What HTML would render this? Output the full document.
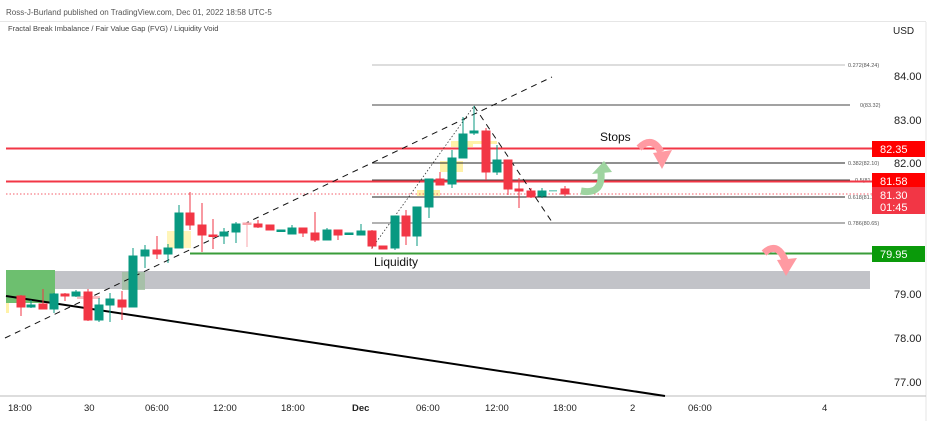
<!DOCTYPE html>
<html><head><meta charset="utf-8"><style>
body{margin:0;background:#fff;}
svg{display:block;font-family:"Liberation Sans",sans-serif;}
</style></head><body>
<svg width="938" height="421" viewBox="0 0 938 421" xmlns="http://www.w3.org/2000/svg">
<rect width="938" height="421" fill="#fff"/>
<text x="6" y="15" font-size="8" fill="#555">Ross-J-Burland published on TradingView.com, Dec 01, 2022 18:58 UTC-5</text>
<rect x="0" y="21" width="926" height="1" fill="#e6e6e6"/>
<text x="8" y="31" font-size="7.5" fill="#444">Fractal Break Imbalance / Fair Value Gap (FVG) / Liquidity Void</text>
<text x="893" y="34" font-size="10" fill="#222">USD</text>
<line x1="926" y1="22" x2="926" y2="421" stroke="#e6e6e6"/>
<line x1="0" y1="396" x2="926" y2="396" stroke="#bbb"/>
<rect x="55" y="271" width="815" height="18" fill="#c2c3c8"/>
<rect x="6" y="270" width="49" height="33" fill="#6dbf6f"/>
<rect x="122" y="272" width="23" height="18" fill="#9fbfa0" opacity="0.8"/>
<rect x="6" y="303" width="3" height="10" fill="#fff2a8"/>
<rect x="167" y="231" width="24" height="17" fill="#fff2a8" opacity="0.8"/>
<rect x="417" y="190" width="23" height="6" fill="#fff2a8"/>
<rect x="440" y="161" width="23" height="11" fill="#fff2a8"/>
<rect x="451" y="141" width="22" height="6" fill="#fff2a8"/>
<rect x="467" y="141" width="30" height="3" fill="#fff2a8"/>
<rect x="77" y="296" width="23" height="3" fill="#f8c0c4"/>
<g stroke-width="1">
<line x1="372" y1="65" x2="845" y2="65" stroke="#bbb"/>
<line x1="372" y1="105" x2="850" y2="105" stroke="#444"/>
<line x1="372" y1="163" x2="845" y2="163" stroke="#222"/>
<line x1="372" y1="180" x2="850" y2="180" stroke="#444"/>
<line x1="372" y1="197" x2="845" y2="197" stroke="#222"/>
<line x1="372" y1="223" x2="845" y2="223" stroke="#666"/>
</g>
<g font-size="5.5" fill="#555">
<text x="848" y="67">0.272(84.24)</text>
<text x="860" y="107">0(83.32)</text>
<text x="848" y="165">0.382(82.10)</text>
<text x="855" y="182">0.5(81.62)</text>
<text x="848" y="199">0.618(81.22)</text>
<text x="848" y="225">0.786(80.65)</text>
</g>
<line x1="6" y1="148.5" x2="872" y2="148.5" stroke="#f23645" stroke-width="2"/>
<line x1="6" y1="181.5" x2="872" y2="181.5" stroke="#f23645" stroke-width="2"/>
<line x1="6" y1="194" x2="872" y2="194" stroke="#f23645" stroke-dasharray="1.5 2" opacity="0.8"/>
<line x1="190" y1="253.5" x2="872" y2="253.5" stroke="#3a9c3a" stroke-width="2"/>
<line x1="5" y1="338" x2="552" y2="77" stroke="#111" stroke-dasharray="6 5" stroke-width="1"/>
<line x1="372" y1="248" x2="474" y2="106" stroke="#333" stroke-dasharray="1.5 2" stroke-width="0.8"/>
<line x1="474" y1="106" x2="552" y2="222" stroke="#111" stroke-dasharray="6 5" stroke-width="1"/>
<line x1="6" y1="296" x2="665" y2="396" stroke="#000" stroke-width="2"/>
<!-- red candles -->
<g stroke="#f23645" fill="#f23645">
<line x1="21" x2="21" y1="295" y2="316"/><rect x="17" y="296" width="8" height="11"/>
<line x1="43" x2="43" y1="289" y2="309"/><rect x="39" y="304" width="8" height="5"/>
<line x1="65" x2="65" y1="293" y2="301"/><rect x="61" y="294" width="8" height="2"/>
<line x1="88" x2="88" y1="289" y2="321"/><rect x="84" y="292" width="8" height="28"/>
<line x1="122" x2="122" y1="291" y2="320"/><rect x="118" y="300" width="8" height="7"/>
<line x1="157" x2="157" y1="236" y2="259"/><rect x="153" y="250" width="8" height="4"/>
<line x1="190" x2="190" y1="192" y2="230"/><rect x="186" y="213" width="8" height="12"/>
<line x1="202" x2="202" y1="203" y2="252"/><rect x="198" y="225" width="8" height="10"/>
<line x1="213" x2="213" y1="219" y2="249"/><rect x="209" y="235" width="8" height="1.5"/>
<line x1="258" x2="258" y1="220" y2="228"/><rect x="254" y="224" width="8" height="3"/>
<rect x="266" y="225" width="8" height="5"/>
<line x1="303" x2="303" y1="228" y2="237"/><rect x="299" y="228" width="8" height="5"/>
<line x1="315" x2="315" y1="212" y2="242"/><rect x="311" y="233" width="8" height="7"/>
<line x1="338" x2="338" y1="230" y2="240"/><rect x="334" y="230" width="8" height="5"/>
<line x1="372" x2="372" y1="230" y2="249"/><rect x="368" y="231" width="8" height="15"/>
<rect x="379" y="246" width="8" height="3"/>
<line x1="406" x2="406" y1="210" y2="245"/><rect x="402" y="216" width="8" height="20"/>
<line x1="440" x2="440" y1="172" y2="185"/><rect x="436" y="179" width="8" height="6"/>
<line x1="486" x2="486" y1="128" y2="180"/><rect x="482" y="131" width="8" height="41"/>
<line x1="508" x2="508" y1="160" y2="195"/><rect x="504" y="160" width="8" height="29"/>
<line x1="519" x2="519" y1="178" y2="208"/><rect x="515" y="189" width="8" height="2"/>
<line x1="531" x2="531" y1="188" y2="198"/><rect x="527" y="191" width="8" height="6"/>
<line x1="565" x2="565" y1="186" y2="196"/><rect x="561" y="189" width="8" height="5"/>
</g>
<g stroke="#f8a5ab" fill="#f8a5ab">
<line x1="247" x2="247" y1="222" y2="247"/><rect x="243" y="223" width="8" height="1.5"/>
</g>
<!-- green candles -->
<g stroke="#089981" fill="#089981">
<line x1="31" x2="31" y1="300" y2="308"/><rect x="27" y="305" width="8" height="2"/>
<line x1="54" x2="54" y1="293" y2="313"/><rect x="50" y="294" width="8" height="15"/>
<line x1="76" x2="76" y1="290" y2="297"/><rect x="72" y="292" width="8" height="4"/>
<line x1="99" x2="99" y1="298" y2="322"/><rect x="95" y="305" width="8" height="15"/>
<line x1="110" x2="110" y1="293" y2="322"/><rect x="106" y="299" width="8" height="6"/>
<line x1="133" x2="133" y1="248" y2="307"/><rect x="129" y="256" width="8" height="51"/>
<line x1="145" x2="145" y1="245" y2="268"/><rect x="141" y="250" width="8" height="6"/>
<line x1="168" x2="168" y1="244" y2="263"/><rect x="164" y="248" width="8" height="6"/>
<line x1="179" x2="179" y1="205" y2="248"/><rect x="175" y="213" width="8" height="35"/>
<line x1="224" x2="224" y1="228" y2="244"/><rect x="220" y="232" width="8" height="4"/>
<line x1="236" x2="236" y1="222" y2="243"/><rect x="232" y="224" width="8" height="8"/>
<rect x="277" y="230" width="8" height="1.5"/>
<line x1="292" x2="292" y1="225" y2="234"/><rect x="288" y="228" width="8" height="6"/>
<line x1="327" x2="327" y1="228" y2="240"/><rect x="323" y="230" width="8" height="10"/>
<rect x="345" y="233" width="8" height="1.5"/>
<line x1="361" x2="361" y1="224" y2="235"/><rect x="357" y="231" width="8" height="4"/>
<line x1="395" x2="395" y1="216" y2="250"/><rect x="391" y="216" width="8" height="32"/>
<line x1="417" x2="417" y1="207" y2="246"/><rect x="413" y="207" width="8" height="29"/>
<line x1="429" x2="429" y1="179" y2="218"/><rect x="425" y="179" width="8" height="28"/>
<line x1="452" x2="452" y1="150" y2="188"/><rect x="448" y="158" width="8" height="26"/>
<line x1="463" x2="463" y1="117" y2="158"/><rect x="459" y="134" width="8" height="24"/>
<line x1="474" x2="474" y1="106" y2="135"/><rect x="470" y="131" width="8" height="2"/>
<line x1="497" x2="497" y1="145" y2="175"/><rect x="493" y="160" width="8" height="12"/>
<line x1="542" x2="542" y1="188" y2="198"/><rect x="538" y="191" width="8" height="5"/>
</g>
<rect x="549" y="190" width="8" height="1.5" fill="#7fd0c0"/>
<text x="600" y="141" font-size="12" fill="#111">Stops</text>
<text x="374" y="266" font-size="12" fill="#111">Liquidity</text>
<g fill="none" stroke-width="7" stroke-linecap="butt">
<path d="M639 148 Q652 135 661 152" stroke="#ff9aa2"/>
<path d="M581 191 Q603 195 601 172" stroke="#9ed4a0"/>
<path d="M764 253 Q777 241 785 260" stroke="#ff9aa2"/>
</g>
<polygon points="653,153 672,150 662,169" fill="#ff9aa2"/>
<polygon points="592,174 612,172 604,161" fill="#9ed4a0"/>
<polygon points="777,260 797,258 786,276" fill="#ff9aa2"/>
<g font-size="11" fill="#222">
<text x="894" y="80">84.00</text>
<text x="894" y="124">83.00</text>
<text x="894" y="167">82.00</text>
<text x="894" y="298">79.00</text>
<text x="894" y="342">78.00</text>
<text x="894" y="386">77.00</text>
</g>
<rect x="872" y="141" width="53" height="16" fill="#f00"/>
<text x="880" y="153" font-size="11" fill="#fff">82.35</text>
<rect x="872" y="173" width="53" height="16" fill="#f00"/>
<text x="880" y="185" font-size="11" fill="#fff">81.58</text>
<rect x="872" y="187" width="53" height="27" fill="#f23645"/>
<text x="880" y="199" font-size="11" fill="#fff">81.30</text>
<text x="880" y="211" font-size="11" fill="#fff">01:45</text>
<rect x="872" y="246" width="53" height="16" fill="#0a9a0a"/>
<text x="880" y="258" font-size="11" fill="#fff">79.95</text>
<g font-size="9.5" fill="#222">
<text x="8" y="411">18:00</text><text x="84" y="411">30</text>
<text x="145" y="411">06:00</text><text x="213" y="411">12:00</text>
<text x="281" y="411">18:00</text><text x="352" y="411" font-weight="bold">Dec</text>
<text x="416" y="411">06:00</text><text x="485" y="411">12:00</text>
<text x="553" y="411">18:00</text><text x="630" y="411">2</text>
<text x="688" y="411">06:00</text><text x="822" y="411">4</text>
</g>
</svg>
</body></html>
